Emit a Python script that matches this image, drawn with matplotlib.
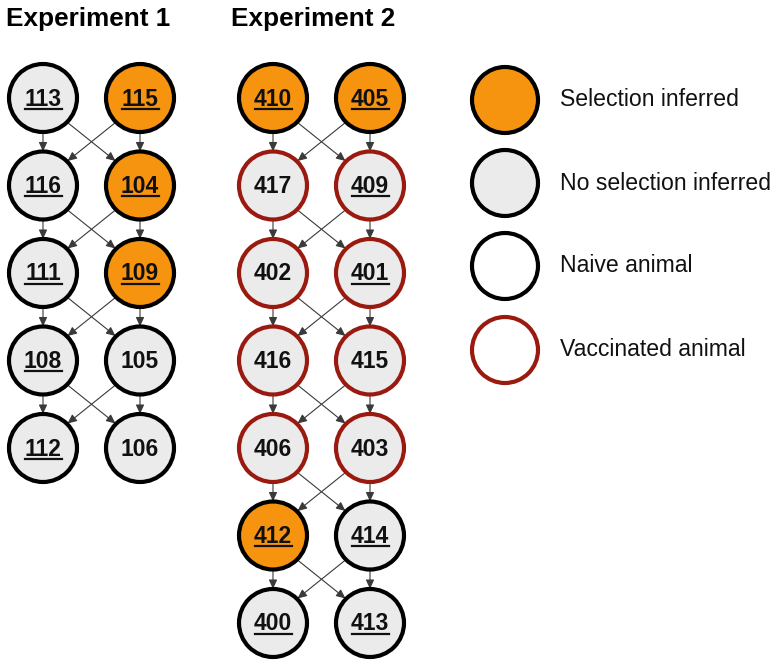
import matplotlib.pyplot as plt
from matplotlib.patches import Circle, FancyArrowPatch

plt.rcParams["font.family"] = ["Liberation Sans", "DejaVu Sans"]

# experiment 1: two columns, five rows
exp1_labels = [["113", "115"], ["116", "104"], ["111", "109"], ["108", "105"], ["112", "106"]]
exp1_selected = [[0, 1], [0, 1], [0, 1], [0, 0], [0, 0]]
exp1_underline = [[1, 1], [1, 1], [1, 1], [1, 0], [1, 0]]
exp1_vaccinated = [0, 0, 0, 0, 0]

# experiment 2: two columns, seven rows
exp2_labels = [["410", "405"], ["417", "409"], ["402", "401"], ["416", "415"],
               ["406", "403"], ["412", "414"], ["400", "413"]]
exp2_selected = [[1, 1], [0, 0], [0, 0], [0, 0], [0, 0], [1, 0], [0, 0]]
exp2_underline = [[1, 1], [0, 1], [0, 1], [0, 0], [0, 0], [1, 1], [1, 1]]
exp2_vaccinated = [0, 1, 1, 1, 1, 0, 0]

legend_labels = ["Selection inferred", "No selection inferred", "Naive animal", "Vaccinated animal"]

ORANGE = "#f7940f"
GREY = "#ebebeb"
RED = "#9a1a10"
R = 34
ROW_GAP = 87.5
TOP = 98

fig = plt.figure(figsize=(7.83, 6.69), dpi=100)
ax = fig.add_axes([0, 0, 1, 1])
ax.set_xlim(0, 783)
ax.set_ylim(669, 0)
ax.axis("off")


def arrow(p0, p1):
    ax.add_patch(FancyArrowPatch(p0, p1, arrowstyle="-|>,head_length=5.5,head_width=2.5",
                                 color="#3a3a3a", lw=0.8, shrinkA=0, shrinkB=0, zorder=1))


def node(x, y, label, fill, edge, underline):
    ax.add_patch(Circle((x, y), R, facecolor=fill, edgecolor=edge, lw=3, zorder=2))
    if label:
        ax.text(x, y + 1, label, ha="center", va="center", fontsize=16.5,
                fontweight="bold", color="#111111", zorder=3)
        if underline:
            ax.plot([x - 18.5, x + 18.5], [y + 10.5, y + 10.5], color="#111111", lw=1.6, zorder=3)


def draw_experiment(xs, labels, selected, underline, vaccinated):
    n = len(labels)
    d = R * 0.72
    for r in range(n - 1):
        y0 = TOP + r * ROW_GAP
        y1 = y0 + ROW_GAP
        for c in range(2):
            arrow((xs[c], y0 + R), (xs[c], y1 - R))
        arrow((xs[0] + d, y0 + d), (xs[1] - d, y1 - d))
        arrow((xs[1] - d, y0 + d), (xs[0] + d, y1 - d))
    for r in range(n):
        y = TOP + r * ROW_GAP
        edge = RED if vaccinated[r] else "black"
        for c in range(2):
            fill = ORANGE if selected[r][c] else GREY
            node(xs[c], y, labels[r][c], fill, edge, underline[r][c])


draw_experiment([43, 140], exp1_labels, exp1_selected, exp1_underline, exp1_vaccinated)
draw_experiment([273, 370], exp2_labels, exp2_selected, exp2_underline, exp2_vaccinated)

ax.text(6, 26, "Experiment 1", fontsize=18.8, fontweight="bold", va="baseline")
ax.text(231, 26, "Experiment 2", fontsize=18.8, fontweight="bold", va="baseline")

legend_fill = [ORANGE, GREY, "white", "white"]
legend_edge = ["black", "black", "black", RED]
legend_y = [100, 183, 266, 350]
for lab, f, e, y in zip(legend_labels, legend_fill, legend_edge, legend_y):
    ax.add_patch(Circle((505, y), 33, facecolor=f, edgecolor=e, lw=3))
    ax.text(560, y, lab, fontsize=16.6, va="center", color="#111111")

fig.savefig("out.png", dpi=100)
